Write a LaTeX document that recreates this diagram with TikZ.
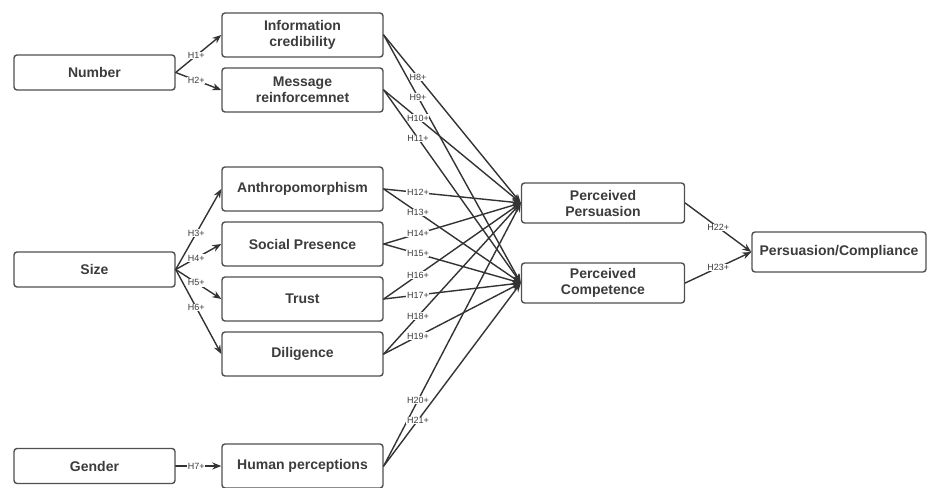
\documentclass[tikz,border=0pt]{standalone}
\usepackage{fontspec}
\setmainfont{Liberation Sans}
\usetikzlibrary{arrows.meta}
\definecolor{ink}{HTML}{333333}
\definecolor{rim}{HTML}{505050}
\definecolor{word}{HTML}{3C3C3C}
\begin{document}
\begin{tikzpicture}[x=1pt,y=-1pt,>={Stealth[length=9pt,width=7pt]},line cap=round,line join=round,
	box/.style={draw=rim,line width=1.4pt,rounded corners=3pt,fill=white,text=word,font=\fontsize{14}{16}\selectfont\bfseries,align=center,minimum width=161pt,minimum height=44pt,inner sep=1pt},
	srcbox/.style={box,minimum height=35pt},
	hyp/.style={fill=white,text=word,font=\fontsize{9}{9}\selectfont,inner sep=0.6pt},
	link/.style={->,draw=ink,line width=1.4pt}]
	\useasboundingbox (0,0) rectangle (936,487);
	% left column
	\node[srcbox] (number) at (94.5,72.5) {Number};
	\node[srcbox] (size) at (94.5,269.5) {Size};
	\node[srcbox] (gender) at (94.5,466) {Gender};
	% middle column
	\node[box] (cred) at (302.5,35) {Information\\credibility};
	\node[box] (reinf) at (302.5,90) {Message\\reinforcemnet};
	\node[box] (anthro) at (302.5,189) {Anthropomorphism};
	\node[box] (social) at (302.5,244) {Social Presence};
	\node[box] (trust) at (302.5,299) {Trust};
	\node[box] (dilig) at (302.5,354) {Diligence};
	\node[box] (human) at (302.5,466) {Human perceptions};
	% outcomes
	\node[box,minimum width=163pt,minimum height=40pt] (persu) at (603,203) {Perceived\\Persuasion};
	\node[box,minimum width=163pt,minimum height=40pt] (compet) at (603,283) {Perceived\\Competence};
	\node[box,minimum width=174pt,minimum height=40pt] (comply) at (839,252) {Persuasion/Compliance};
	% antecedents
	\foreach \src/\dst/\lbl in {number/cred/H1+,number/reinf/H2+,size/anthro/H3+,size/social/H4+,size/trust/H5+,size/dilig/H6+,gender/human/H7+}
	\draw[link] (\src.east) -- (\dst.west) node[hyp,pos=0.45] {\lbl};
	% mediators
	\foreach \src/\dst/\lbl in {cred/persu/H8+,cred/compet/H9+,reinf/persu/H10+,reinf/compet/H11+,anthro/persu/H12+,anthro/compet/H13+,social/persu/H14+,social/compet/H15+,trust/persu/H16+,trust/compet/H17+,dilig/persu/H18+,dilig/compet/H19+,human/persu/H20+,human/compet/H21+}
	\draw[link] (\src.east) -- (\dst.west) node[hyp,pos=0.25] {\lbl};
	\foreach \src/\lbl in {persu/H22+,compet/H23+}
	\draw[link] (\src.east) -- (comply.west) node[hyp,pos=0.5] {\lbl};
\end{tikzpicture}
\end{document}
